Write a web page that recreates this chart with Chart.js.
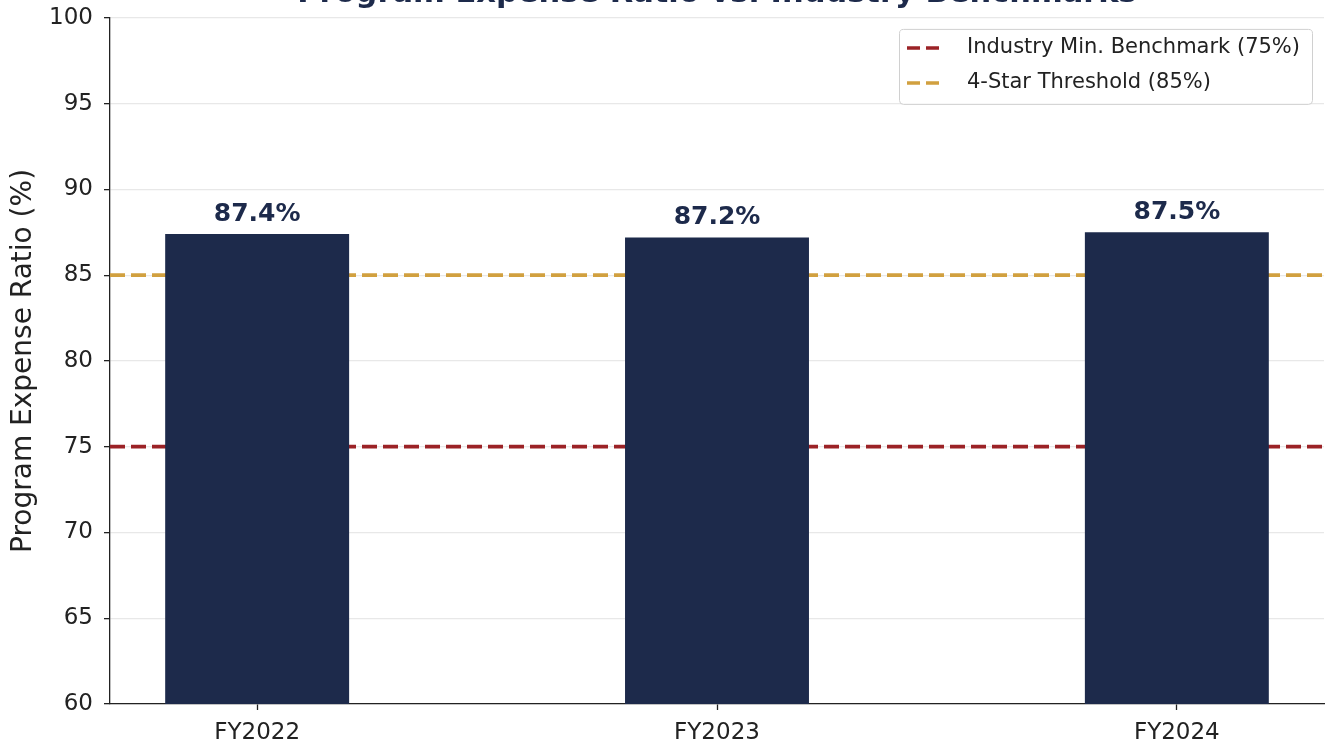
<!DOCTYPE html>
<html>
<head>
<meta charset="utf-8">
<script src="https://cdn.jsdelivr.net/npm/chart.js@4.4.1/dist/chart.umd.min.js"></script>
<style>
  html, body { margin: 0; padding: 0; background: #fff; }
  #wrap { width: 1330px; height: 748px; }
</style>
</head>
<body>
<div id="wrap"><canvas id="myChart" width="1330" height="748"></canvas></div>
<script>
// Données du graphique
const years = ['FY2022', 'FY2023', 'FY2024'];
const ratios = [87.4, 87.2, 87.5];
const benchmarkLabels = ['Industry Min. Benchmark (75%)', '4-Star Threshold (85%)'];
const benchmarkValues = [75, 85];
const yTicks = [60, 65, 70, 75, 80, 85, 90, 95, 100];

const titleText = 'Program Expense Ratio vs. Industry Benchmarks';
const navy = '#1d2a4b';
const benchColors = ['#9b2226', '#d1a03f'];

// marges de l'axe x comme matplotlib (barres de 0.4, marge 5 %)
const xMin = -0.2 - 0.05 * (years.length - 1 + 0.4);
const xMax = years.length - 1 + 0.2 + 0.05 * (years.length - 1 + 0.4);

const font = 'DejaVu Sans';

// titre (coupé en haut comme sur l'image)
const titlePlugin = {
  id: 'cutTitle',
  afterDraw(chart) {
    const ctx = chart.ctx;
    const a = chart.chartArea;
    ctx.save();
    ctx.fillStyle = navy;
    ctx.font = 'bold 30.5px "' + font + '"';
    ctx.textAlign = 'center';
    ctx.textBaseline = 'alphabetic';
    ctx.fillText(titleText, (a.left + a.right) / 2, 2);
    ctx.restore();
  }
};

// étiquettes au-dessus des barres
const barLabels = {
  id: 'barLabels',
  afterDatasetsDraw(chart) {
    const ctx = chart.ctx;
    const meta = chart.getDatasetMeta(2);
    ctx.save();
    ctx.fillStyle = navy;
    ctx.font = 'bold 25px "' + font + '"';
    ctx.textAlign = 'center';
    ctx.textBaseline = 'bottom';
    meta.data.forEach((bar, i) => {
      ctx.fillText(ratios[i].toFixed(1) + '%', bar.x, bar.y - 7);
    });
    ctx.restore();
  }
};

// légende dans le coin supérieur droit
const innerLegend = {
  id: 'innerLegend',
  afterDraw(chart) {
    const ctx = chart.ctx;
    const a = chart.chartArea;
    const w = 413, h = 75;
    const x0 = a.right - 12 - w, y0 = a.top + 11;
    ctx.save();
    ctx.fillStyle = 'rgba(255,255,255,0.85)';
    ctx.strokeStyle = '#d0d0d0';
    ctx.lineWidth = 1;
    ctx.beginPath();
    ctx.roundRect(x0 + 0.5, y0 + 0.5, w, h, 4);
    ctx.fill();
    ctx.stroke();
    ctx.font = '21px "' + font + '"';
    ctx.textBaseline = 'middle';
    benchmarkLabels.forEach((lab, i) => {
      const yy = y0 + 19 + i * 35;
      ctx.strokeStyle = benchColors[i];
      ctx.lineWidth = 3.5;
      ctx.setLineDash([13, 6]);
      ctx.beginPath();
      ctx.moveTo(x0 + 8, yy);
      ctx.lineTo(x0 + 46, yy);
      ctx.stroke();
      ctx.setLineDash([]);
      ctx.fillStyle = '#222';
      ctx.fillText(lab, x0 + 68, yy);
    });
    ctx.restore();
  }
};

const benchDatasets = benchmarkValues.map((v, i) => ({
  type: 'line',
  label: benchmarkLabels[i],
  data: [{ x: xMin, y: v }, { x: xMax, y: v }],
  borderColor: benchColors[i],
  borderWidth: 3.8,
  borderDash: [15, 6],
  pointRadius: 0,
  order: 2
}));

const ctx = document.getElementById('myChart').getContext('2d');
new Chart(ctx, {
  type: 'bar',
  data: {
    datasets: [
      ...benchDatasets,
      {
        type: 'bar',
        label: 'Ratio',
        data: ratios.map((r, i) => ({ x: i, y: r })),
        backgroundColor: navy,
        barPercentage: 0.4,
        categoryPercentage: 1,
        order: 1
      }
    ]
  },
  options: {
    responsive: false,
    animation: false,
    layout: { padding: { top: 17, right: 6, left: 0, bottom: 0 } },
    plugins: {
      legend: { display: false },
      tooltip: { enabled: false }
    },
    scales: {
      x: {
        type: 'linear',
        offset: false,
        min: xMin,
        max: xMax,
        afterBuildTicks: s => { s.ticks = years.map((y, i) => ({ value: i })); },
        afterFit: s => { s.height = 44; },
        grid: { offset: false, drawOnChartArea: false, tickLength: 6, tickColor: '#222', tickWidth: 1.3 },
        border: { color: '#222', width: 1.3 },
        ticks: {
          callback: v => years[v],
          font: { family: font, size: 23 },
          color: '#222',
          padding: 9,
          maxRotation: 0
        }
      },
      y: {
        min: 60,
        max: 100,
        afterBuildTicks: s => { s.ticks = yTicks.map(v => ({ value: v })); },
        afterFit: s => { s.width = 110; },
        grid: { color: '#e8e8e8', lineWidth: 1.3, tickLength: 6, tickColor: '#222', tickWidth: 1.3 },
        border: { color: '#222', width: 1.3 },
        ticks: {
          font: { family: font, size: 23, lineHeight: 0.6 },
          color: '#222',
          padding: 11
        },
        title: {
          display: true,
          text: 'Program Expense Ratio (%)',
          font: { family: font, size: 28 },
          color: '#222',
          padding: { top: 7, bottom: 5 }
        }
      }
    }
  },
  plugins: [titlePlugin, barLabels, innerLegend]
});
</script>
</body>
</html>
